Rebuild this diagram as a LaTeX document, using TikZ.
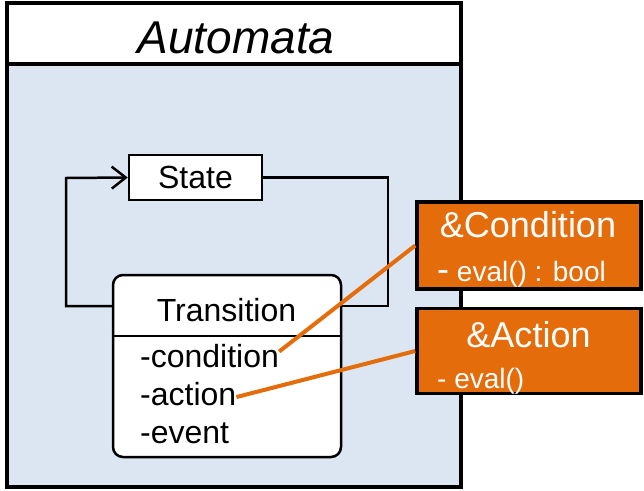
\documentclass[tikz,border=0pt]{standalone}
\usepackage{fontspec}
\setmainfont{Liberation Sans}
\usepackage{tikz}
\usetikzlibrary{arrows.meta,positioning}
\definecolor{lblue}{HTML}{DCE6F2}
\definecolor{dorange}{HTML}{E46C0A}

\begin{document}
\begin{tikzpicture}[x=1pt,y=-1pt]
\tikzstyle{box}=[draw,line width=2.5pt,inner sep=0pt,fill=white]
\tikzstyle{txt}=[inner sep=0pt,font=\fontsize{32}{38}\selectfont]
\tikzstyle{wtxt}=[txt,text=white]
\tikzstyle{ref}=[draw,fill=dorange,line width=3.5pt,inner sep=0pt,minimum width=224]
\tikzstyle{loopline}=[line width=2.5pt]
\tikzstyle{link}=[dorange,line width=4pt]

\useasboundingbox (0,0) rectangle (644,490);
\fill[white] (0,0) rectangle (644,490);
\fill[lblue] (7,64) rectangle (461,487);
\draw[line width=3.5pt] (7,3) rectangle (461,487) (7,64) -- (461,64);
\node[txt,anchor=base,font=\fontsize{46}{54}\selectfont\itshape] (title) at (236,53) {Automata};

% states and transitions
\node[box,minimum width=133,minimum height=45,font=\fontsize{32}{38}\selectfont] (state) at (195.5,177.5) {State};
\draw[loopline,-{Straight Barb[length=14pt,width=22pt]}] (113,306) -| (66,178) -- (state.west);
\draw[loopline] (state.east) -| (388,306) -- (341,306);
\node[box,rounded corners=10pt,minimum width=228,minimum height=182] (trans) at (227,366) {};
\node[txt,anchor=base] (tname) at (226.5,321) {Transition};
\draw[loopline] (trans.west |- 0,336) -- (trans.east |- 0,336);
\node[txt,anchor=base west] (cond) at (140,367) {-condition};
\node[txt,anchor=base west] (act) at ([yshift=-38.5pt]cond.base west) {-action};
\node[txt,anchor=base west] (evt) at ([yshift=-37.5pt]act.base west) {-event};

% references
\node[ref,minimum height=87] (condbox) at (529,245.5) {};
\node[ref,minimum height=85] (actbox) at (529,351) {};
\draw[link] ([yshift=4pt]cond.east) -- (condbox.west);
\draw[link] ([yshift=-3pt]act.east) -- (actbox.west);
\node[wtxt,anchor=base,font=\fontsize{36}{42}\selectfont] (condname) at (528,237) {\&Condition};
\node[wtxt,anchor=base west,font=\fontsize{28}{34}\selectfont] (condop) at (437,281) {{\fontsize{36}{42}\selectfont -} eval() : bool};
\node[wtxt,anchor=base,font=\fontsize{36}{42}\selectfont] (actname) at (528.5,347) {\&Action};
\node[wtxt,anchor=base west,font=\fontsize{28}{34}\selectfont] (actop) at (437,388) {- eval()};
\end{tikzpicture}
\end{document}
